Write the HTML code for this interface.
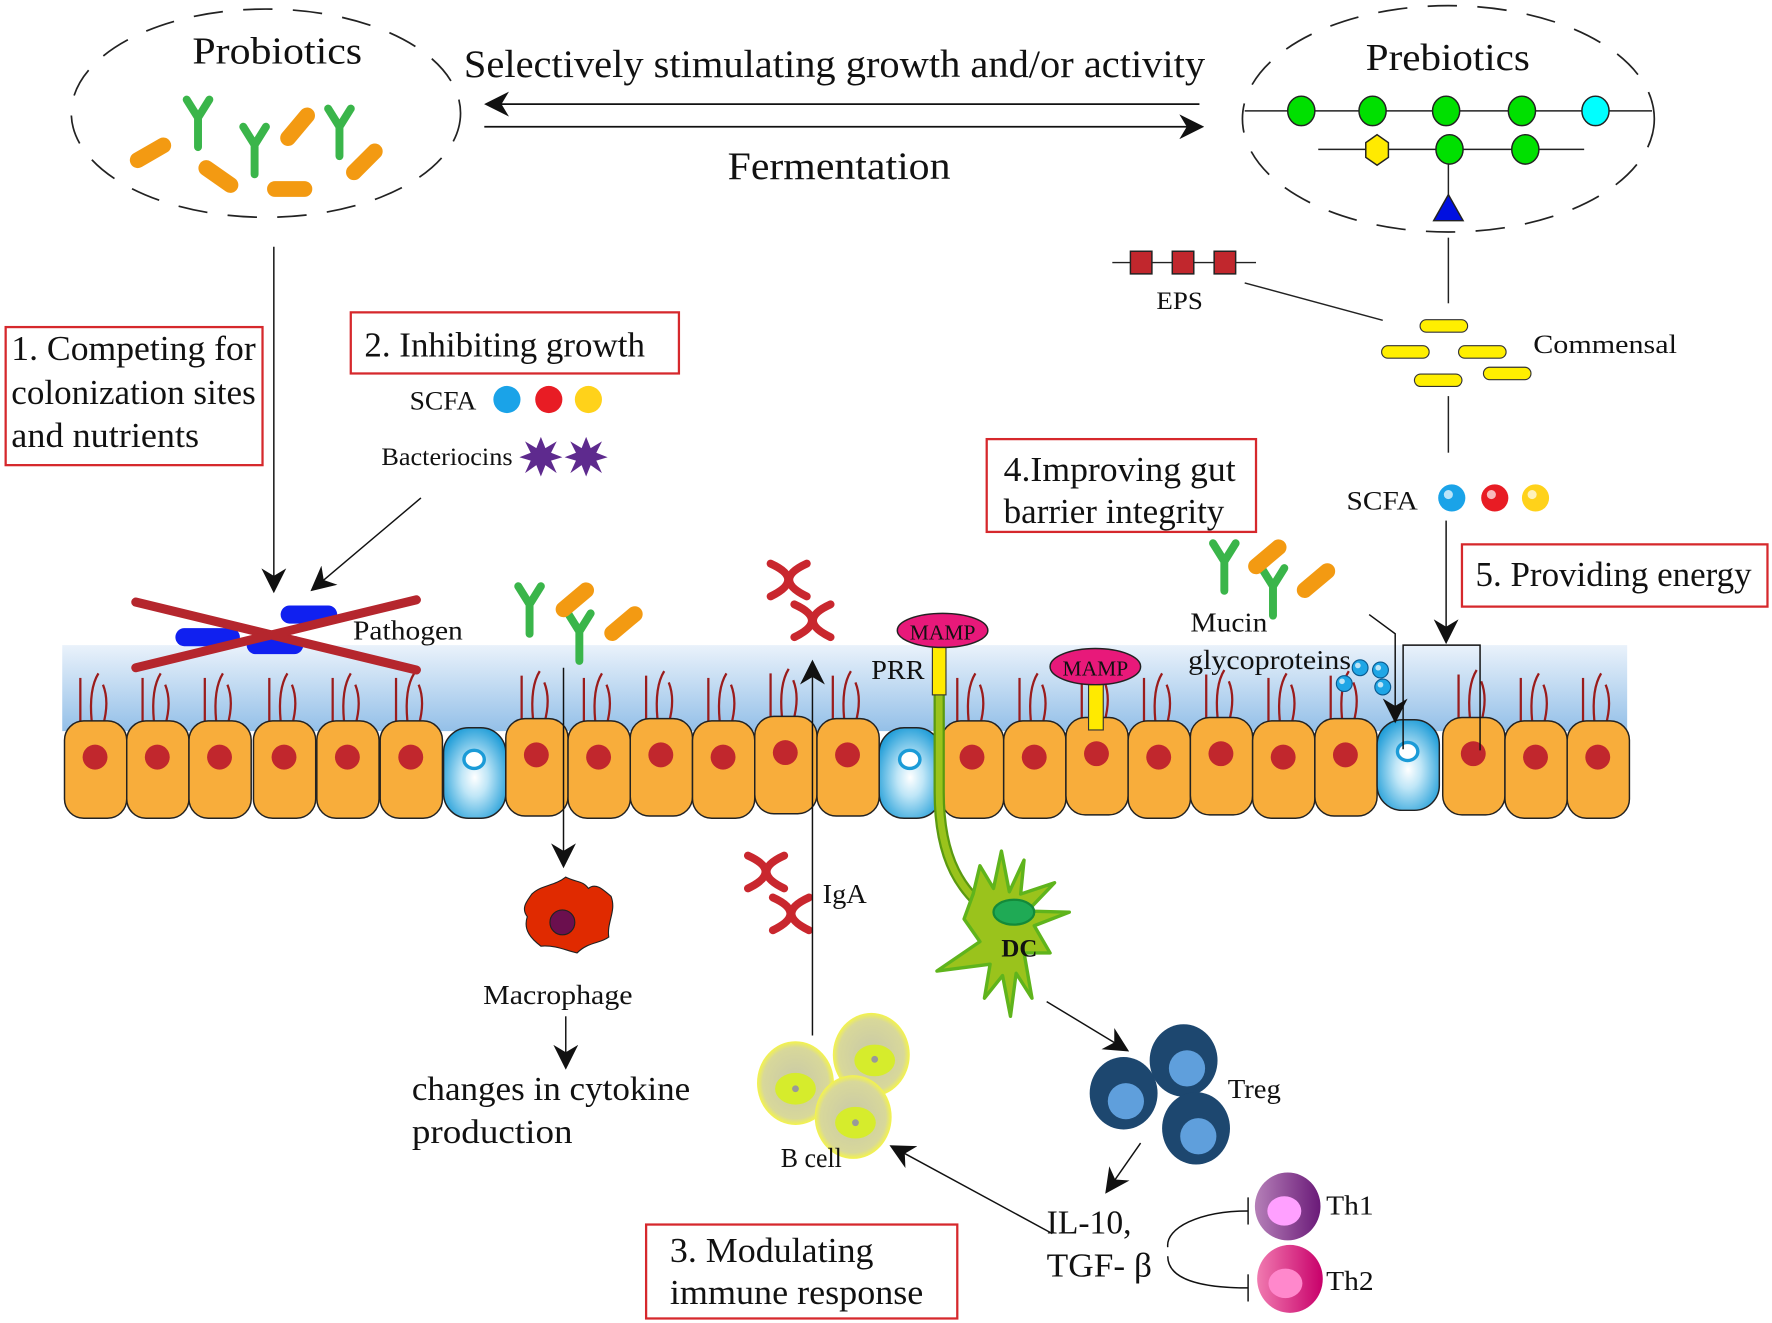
<!DOCTYPE html>
<html><head><meta charset="utf-8"><style>
html,body{margin:0;padding:0;background:#fff;}
svg{display:block;}
text{font-family:"Liberation Serif",serif;fill:#111;}
</style></head><body>
<svg width="1772" height="1323" viewBox="0 0 1566 1169" preserveAspectRatio="none" xmlns="http://www.w3.org/2000/svg">
<defs>
<marker id="ahb" viewBox="0 0 20 20" refX="18" refY="10" markerWidth="22" markerHeight="22" markerUnits="userSpaceOnUse" orient="auto">
<path d="M0,0 L20,10 L0,20 L6,10 Z" fill="#111"/></marker>
<linearGradient id="band" x1="0" y1="0" x2="0" y2="1"><stop offset="0" stop-color="#eaf2fb"/><stop offset="1" stop-color="#94c0e8"/></linearGradient>
<radialGradient id="gob" cx="0.5" cy="0.55" r="0.6"><stop offset="0" stop-color="#fff"/><stop offset="0.35" stop-color="#bfe6f7"/><stop offset="1" stop-color="#1b9bd7"/></radialGradient>
<radialGradient id="bc" cx="0.5" cy="0.5" r="0.5"><stop offset="0" stop-color="#c8c8a8"/><stop offset="0.85" stop-color="#d8d89a"/><stop offset="1" stop-color="#f4f44a"/></radialGradient>
<linearGradient id="th1" x1="0" y1="0" x2="1" y2="0"><stop offset="0" stop-color="#b580b8"/><stop offset="1" stop-color="#6a1a78"/></linearGradient>
<linearGradient id="th2" x1="0" y1="0" x2="1" y2="0"><stop offset="0" stop-color="#f07ab0"/><stop offset="1" stop-color="#c8006a"/></linearGradient>
<g id="hair" fill="none" stroke="#9b1c1c" stroke-width="2">
<path d="M14,2 V-38"/><path d="M24,0 C22,-22 25,-34 30,-42"/><path d="M34,4 C38,-10 38,-22 34,-32"/></g>
<g id="cell"><use href="#hair"/><rect x="0" y="0" width="55" height="86" rx="17" fill="#f8ad3b" stroke="#222" stroke-width="1.3"/><ellipse cx="27" cy="32" rx="11" ry="11" fill="#c1272d"/></g>
<g id="gcell"><rect x="0" y="6" width="55" height="80" rx="22" fill="url(#gob)" stroke="#222" stroke-width="1.3"/><ellipse cx="27" cy="34" rx="9" ry="8" fill="#fff" stroke="#1b9bd7" stroke-width="3"/></g>
<g id="Y"><path d="M-10,-16 L0,0 L10,-16 M0,0 V26" fill="none" stroke="#3ab54a" stroke-width="7" stroke-linecap="round" stroke-linejoin="round"/></g>
<g id="rod"><rect x="-20" y="-7" width="40" height="14" rx="7" fill="#f39a12"/></g>
<g id="iga" fill="none" stroke="#c9272e" stroke-width="7" stroke-linecap="round"><path d="M-16,-14 Q15,0 -16,15"/><path d="M16,-14 Q-15,0 16,15"/></g>
<g id="yrod"><rect x="-21" y="-5.5" width="42" height="11" rx="5.5" fill="#ffef00" stroke="#333" stroke-width="1"/></g>
</defs>

<ellipse cx="235" cy="100" rx="172" ry="92" fill="none" stroke="#222" stroke-width="1.5" stroke-dasharray="26 18"/>
<ellipse cx="1280" cy="105" rx="182" ry="100" fill="none" stroke="#222" stroke-width="1.5" stroke-dasharray="26 18"/>
<text x="170" y="56" font-size="34" textLength="150" lengthAdjust="spacingAndGlyphs">Probiotics</text>
<text x="1207" y="62" font-size="34" textLength="145" lengthAdjust="spacingAndGlyphs">Prebiotics</text>
<text x="410" y="68" font-size="35" textLength="655" lengthAdjust="spacingAndGlyphs">Selectively stimulating growth and/or activity</text>
<text x="643" y="158" font-size="35" textLength="197" lengthAdjust="spacingAndGlyphs">Fermentation</text>
<line x1="1060" y1="92" x2="430" y2="92" stroke="#111" stroke-width="1.5" marker-end="url(#ahb)"/>
<line x1="428" y1="112" x2="1062" y2="112" stroke="#111" stroke-width="1.5" marker-end="url(#ahb)"/>

<use href="#Y" x="175" y="104"/><use href="#Y" x="225" y="128"/><use href="#Y" x="300" y="112"/>
<use href="#rod" transform="translate(133,135) rotate(-30)"/><use href="#rod" transform="translate(193,156) rotate(35)"/>
<use href="#rod" transform="translate(256,167)"/><use href="#rod" transform="translate(263,112) rotate(-50)"/>
<use href="#rod" transform="translate(322,143) rotate(-45)"/>

<g stroke="#222" stroke-width="1.3">
<line x1="1100" y1="98" x2="1460" y2="98"/><line x1="1165" y1="132" x2="1400" y2="132"/><line x1="1280" y1="132" x2="1280" y2="180"/>
<g fill="#00e000"><ellipse cx="1150" cy="98" rx="12" ry="13"/><ellipse cx="1213" cy="98" rx="12" ry="13"/><ellipse cx="1278" cy="98" rx="12" ry="13"/><ellipse cx="1345" cy="98" rx="12" ry="13"/><ellipse cx="1281" cy="132" rx="12" ry="13"/><ellipse cx="1348" cy="132" rx="12" ry="13"/></g>
<ellipse cx="1410" cy="98" rx="12" ry="13" fill="#0ff"/>
<polygon points="1217,119 1227,126 1227,139 1217,146 1207,139 1207,126" fill="#ffea00"/>
<polygon points="1280,172 1293,195 1267,195" fill="#0010e0"/>
<line x1="1280" y1="210" x2="1280" y2="268"/>
<line x1="983" y1="232" x2="1110" y2="232"/>
<g fill="#c1272d"><rect x="999" y="222" width="19" height="20"/><rect x="1036" y="222" width="19" height="20"/><rect x="1073" y="222" width="19" height="20"/></g>
<line x1="1100" y1="250" x2="1222" y2="283"/>
<line x1="1280" y1="350" x2="1280" y2="400"/>
</g>
<text x="1022" y="273" font-size="22" textLength="41" lengthAdjust="spacingAndGlyphs">EPS</text>
<use href="#yrod" x="1276" y="288"/><use href="#yrod" x="1242" y="311"/><use href="#yrod" x="1310" y="311"/><use href="#yrod" x="1271" y="336"/><use href="#yrod" x="1332" y="330"/>
<text x="1355" y="312" font-size="23" textLength="127" lengthAdjust="spacingAndGlyphs">Commensal</text>
<text x="1190" y="450" font-size="23" textLength="63" lengthAdjust="spacingAndGlyphs">SCFA</text>
<circle cx="1283" cy="440" r="12" fill="#1aa3e8"/><circle cx="1321" cy="440" r="12" fill="#e81c24"/><circle cx="1357" cy="440" r="12" fill="#ffd21a"/>
<circle cx="1280" cy="437" r="4" fill="#fff" opacity=".7"/><circle cx="1318" cy="437" r="4" fill="#fff" opacity=".7"/><circle cx="1354" cy="437" r="4" fill="#fff" opacity=".7"/>

<g fill="none" stroke="#d6282c" stroke-width="2">
<rect x="5" y="289" width="227" height="122"/><rect x="310" y="276" width="290" height="54"/>
<rect x="872" y="388" width="238" height="82"/><rect x="1292" y="481" width="270" height="55"/>
<rect x="571" y="1082" width="275" height="83"/></g>
<g font-size="31">
<text x="10" y="318" textLength="216" lengthAdjust="spacingAndGlyphs">1. Competing for</text><text x="10" y="357" textLength="216" lengthAdjust="spacingAndGlyphs">colonization sites</text><text x="10" y="395" textLength="166" lengthAdjust="spacingAndGlyphs">and nutrients</text>
<text x="322" y="315" textLength="248" lengthAdjust="spacingAndGlyphs">2. Inhibiting growth</text>
<text x="887" y="425" textLength="205" lengthAdjust="spacingAndGlyphs">4.Improving gut</text><text x="887" y="462" textLength="195" lengthAdjust="spacingAndGlyphs">barrier integrity</text>
<text x="1304" y="518" textLength="244" lengthAdjust="spacingAndGlyphs">5. Providing energy</text>
<text x="592" y="1115" textLength="180" lengthAdjust="spacingAndGlyphs">3. Modulating</text><text x="592" y="1152" textLength="224" lengthAdjust="spacingAndGlyphs">immune response</text></g>

<text x="362" y="362" font-size="23" textLength="59" lengthAdjust="spacingAndGlyphs">SCFA</text>
<circle cx="448" cy="353" r="12" fill="#1aa3e8"/><circle cx="485" cy="353" r="12" fill="#e81c24"/><circle cx="520" cy="353" r="12" fill="#ffd21a"/>
<text x="337" y="411" font-size="22" textLength="116" lengthAdjust="spacingAndGlyphs">Bacteriocins</text>
<g fill="#5e2a8e"><polygon points="478,386 482,396 492,390 487,400 497,404 487,407 492,418 482,411 478,421 474,411 464,418 469,407 459,404 469,400 464,390 474,396"/>
<polygon points="518,386 522,396 532,390 527,400 537,404 527,407 532,418 522,411 518,421 514,411 504,418 509,407 499,404 509,400 504,390 514,396"/></g>
<line x1="242" y1="218" x2="242" y2="522" stroke="#111" stroke-width="1.3" marker-end="url(#ahb)"/>
<line x1="372" y1="440" x2="276" y2="521" stroke="#111" stroke-width="1.3" marker-end="url(#ahb)"/>

<rect x="55" y="570" width="1383" height="76" fill="url(#band)"/>
<use href="#cell" x="57" y="637"/><use href="#cell" x="112" y="637"/><use href="#cell" x="167" y="637"/><use href="#cell" x="224" y="637"/><use href="#cell" x="280" y="637"/><use href="#cell" x="336" y="637"/>
<use href="#gcell" x="392" y="637"/>
<use href="#cell" x="447" y="635"/><use href="#cell" x="502" y="637"/><use href="#cell" x="557" y="635"/><use href="#cell" x="612" y="637"/><use href="#cell" x="667" y="633"/><use href="#cell" x="722" y="635"/>
<use href="#gcell" x="777" y="637"/>
<use href="#cell" x="832" y="637"/><use href="#cell" x="887" y="637"/><use href="#cell" x="942" y="634"/><use href="#cell" x="997" y="637"/><use href="#cell" x="1052" y="634"/><use href="#cell" x="1107" y="637"/><use href="#cell" x="1162" y="635"/>
<use href="#gcell" x="1217" y="630"/>
<use href="#cell" x="1275" y="634"/><use href="#cell" x="1330" y="637"/><use href="#cell" x="1385" y="637"/>

<g fill="#1020f0"><rect x="155" y="555" width="57" height="16" rx="8"/><rect x="248" y="535" width="50" height="16" rx="8"/><rect x="218" y="562" width="50" height="16" rx="8"/></g>
<g stroke="#b5262d" stroke-width="8" stroke-linecap="round"><line x1="120" y1="532" x2="368" y2="592"/><line x1="120" y1="590" x2="368" y2="530"/></g>
<text x="312" y="565" font-size="24" textLength="97" lengthAdjust="spacingAndGlyphs">Pathogen</text>

<use href="#Y" x="468" y="534"/><use href="#Y" x="512" y="558"/>
<use href="#rod" transform="translate(508,530) rotate(-40)"/><use href="#rod" transform="translate(551,551) rotate(-40)"/>
<line x1="498" y1="590" x2="498" y2="765" stroke="#111" stroke-width="1.3" marker-end="url(#ahb)"/>
<path d="M470,790 C478,782 490,783 500,775 C510,780 515,778 520,785 C526,780 532,785 540,792 C545,805 536,815 538,828 C530,834 520,832 510,842 C500,840 492,835 478,836 C470,830 462,822 466,810 C460,802 466,796 470,790Z" fill="#e02a00" stroke="#222" stroke-width="1"/>
<circle cx="497" cy="815" r="11" fill="#6b0f4e" stroke="#222" stroke-width="1"/>
<text x="427" y="887" font-size="24" textLength="132" lengthAdjust="spacingAndGlyphs">Macrophage</text>
<line x1="500" y1="898" x2="500" y2="943" stroke="#111" stroke-width="1.3" marker-end="url(#ahb)"/>
<text x="364" y="972" font-size="30" textLength="246" lengthAdjust="spacingAndGlyphs">changes in cytokine</text><text x="364" y="1010" font-size="30" textLength="142" lengthAdjust="spacingAndGlyphs">production</text>

<use href="#iga" x="697" y="512"/><use href="#iga" x="718" y="548"/>
<use href="#iga" x="677" y="770"/><use href="#iga" x="699" y="807"/>
<line x1="718" y1="915" x2="718" y2="585" stroke="#111" stroke-width="1.3" marker-end="url(#ahb)"/>
<text x="727" y="798" font-size="24" textLength="39" lengthAdjust="spacingAndGlyphs">IgA</text>
<ellipse cx="703" cy="957" rx="34" ry="37" fill="url(#bc)"/><ellipse cx="770" cy="932" rx="34" ry="37" fill="url(#bc)"/><ellipse cx="754" cy="987" rx="34" ry="37" fill="url(#bc)"/>
<g fill="#d6ec2c"><ellipse cx="703" cy="962" rx="18" ry="14"/><ellipse cx="773" cy="937" rx="18" ry="14"/><ellipse cx="756" cy="992" rx="18" ry="14"/></g>
<g fill="#999"><circle cx="703" cy="962" r="3"/><circle cx="773" cy="936" r="3"/><circle cx="756" cy="992" r="3"/></g>
<text x="690" y="1031" font-size="24" textLength="54" lengthAdjust="spacingAndGlyphs">B cell</text>
<line x1="930" y1="1090" x2="788" y2="1013" stroke="#111" stroke-width="1.3" marker-end="url(#ahb)"/>

<path d="M830,612 V700 C830,760 850,790 880,810" fill="none" stroke="#5a9a10" stroke-width="10"/>
<path d="M830,612 V700 C830,760 850,790 880,810" fill="none" stroke="#9ac31c" stroke-width="6"/>
<path d="M860,790 L866,765 L878,785 L885,752 L892,788 L905,760 L902,790 L932,780 L908,805 L945,806 L914,818 L928,842 L905,842 L912,882 L898,860 L893,898 L886,862 L870,882 L875,852 L828,858 L866,832 L852,812 Z" fill="#9ac31c" stroke="#5fb41c" stroke-width="3" stroke-linejoin="round"/>
<ellipse cx="896" cy="806" rx="18" ry="11" fill="#1faa55" stroke="#138a3a" stroke-width="2"/>
<text x="885" y="845" font-size="22" font-weight="bold" font-family="Liberation Sans, sans-serif">DC</text>
<rect x="824" y="570" width="12" height="44" fill="#ffea00" stroke="#333" stroke-width="1"/>
<ellipse cx="833" cy="557" rx="40" ry="15" fill="#e8197a" stroke="#222" stroke-width="1.3"/>
<text x="833" y="565" font-size="19" text-anchor="middle">MAMP</text>
<text x="770" y="600" font-size="24" textLength="47" lengthAdjust="spacingAndGlyphs">PRR</text>
<rect x="962" y="602" width="13" height="43" fill="#ffea00" stroke="#333" stroke-width="1"/>
<ellipse cx="968" cy="589" rx="40" ry="16" fill="#e8197a" stroke="#222" stroke-width="1.3"/>
<text x="968" y="597" font-size="19" text-anchor="middle">MAMP</text>

<line x1="925" y1="885" x2="996" y2="928" stroke="#111" stroke-width="1.3" marker-end="url(#ahb)"/>
<g fill="#1d476f"><ellipse cx="993" cy="966" rx="30" ry="32"/><ellipse cx="1046" cy="937" rx="30" ry="32"/><ellipse cx="1057" cy="997" rx="30" ry="32"/></g>
<g fill="#5f9fdc"><circle cx="995" cy="973" r="16"/><circle cx="1049" cy="944" r="16"/><circle cx="1059" cy="1004" r="16"/></g>
<text x="1085" y="970" font-size="24" textLength="47" lengthAdjust="spacingAndGlyphs">Treg</text>
<line x1="1008" y1="1010" x2="978" y2="1053" stroke="#111" stroke-width="1.3" marker-end="url(#ahb)"/>
<text x="925" y="1090" font-size="30" textLength="75" lengthAdjust="spacingAndGlyphs">IL-10,</text><text x="925" y="1128" font-size="30" textLength="93" lengthAdjust="spacingAndGlyphs">TGF- β</text>
<path d="M1103,1070 C1060,1070 1030,1085 1032,1102 M1032,1110 C1032,1130 1060,1138 1103,1138" fill="none" stroke="#111" stroke-width="1.3"/>
<line x1="1103" y1="1058" x2="1103" y2="1082" stroke="#111" stroke-width="1.3"/>
<line x1="1103" y1="1126" x2="1103" y2="1150" stroke="#111" stroke-width="1.3"/>
<ellipse cx="1138" cy="1066" rx="29" ry="30" fill="url(#th1)"/><ellipse cx="1135" cy="1070" rx="15" ry="13" fill="#ffa0ff"/>
<ellipse cx="1140" cy="1130" rx="29" ry="30" fill="url(#th2)"/><ellipse cx="1136" cy="1134" rx="15" ry="13" fill="#ff88cc"/>
<text x="1172" y="1073" font-size="24" textLength="42" lengthAdjust="spacingAndGlyphs">Th1</text><text x="1172" y="1140" font-size="24" textLength="42" lengthAdjust="spacingAndGlyphs">Th2</text>

<use href="#Y" x="1082" y="496"/><use href="#Y" x="1125" y="518"/>
<use href="#rod" transform="translate(1120,492) rotate(-40)"/><use href="#rod" transform="translate(1163,513) rotate(-40)"/>
<text x="1052" y="558" font-size="24" textLength="68" lengthAdjust="spacingAndGlyphs">Mucin</text><text x="1050" y="591" font-size="24" textLength="144" lengthAdjust="spacingAndGlyphs">glycoproteins</text>
<g fill="#1fa6e6" stroke="#0a5a90" stroke-width="1"><circle cx="1188" cy="604" r="7"/><circle cx="1202" cy="590" r="7"/><circle cx="1222" cy="607" r="7"/><circle cx="1220" cy="592" r="7"/></g>
<g fill="#fff" opacity=".7"><circle cx="1186" cy="602" r="2.5"/><circle cx="1200" cy="588" r="2.5"/><circle cx="1220" cy="605" r="2.5"/><circle cx="1218" cy="590" r="2.5"/></g>
<path d="M1210,543 L1233,560 V637" fill="none" stroke="#111" stroke-width="1.3" marker-end="url(#ahb)"/>
<line x1="1278" y1="460" x2="1278" y2="567" stroke="#111" stroke-width="1.3" marker-end="url(#ahb)"/>
<path d="M1240,662 V570 H1308 V663" fill="none" stroke="#111" stroke-width="1.3"/>
</svg>
</body></html>
